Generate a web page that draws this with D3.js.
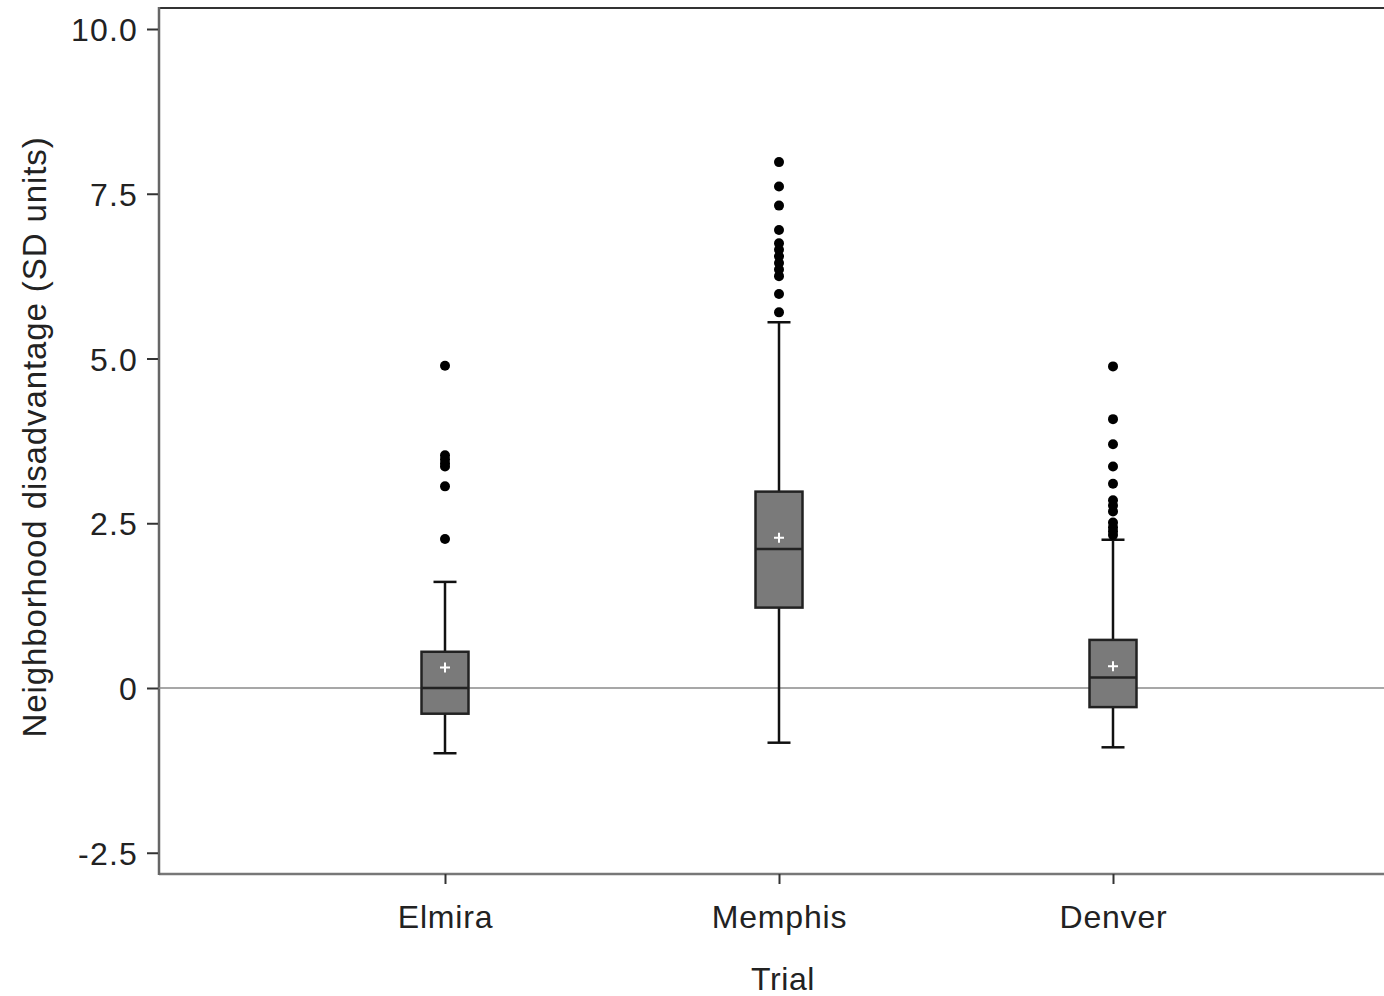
<!DOCTYPE html>
<html><head><meta charset="utf-8">
<script src="https://cdn.jsdelivr.net/npm/d3@7"></script>
<style>body{margin:0;background:#fff}svg{display:block}text{font-family:"Liberation Sans",Arial,sans-serif}</style>
</head><body>
<svg id="c" width="1384" height="996"></svg>
<script>
const categories = ["Elmira", "Memphis", "Denver"];
const q1 = [-0.39, 1.22, -0.29];
const median = [0.0, 2.11, 0.16];
const q3 = [0.55, 2.98, 0.73];
const whiskerLow = [-0.99, -0.83, -0.90];
const whiskerHigh = [1.61, 5.55, 2.25];
const means = [0.31, 2.28, 0.33];
const outliersElmira = [4.89, 3.53, 3.47, 3.41, 3.36, 3.06, 2.26];
const outliersMemphis = [7.98, 7.61, 7.32, 6.95, 6.75, 6.65, 6.55, 6.45, 6.35, 6.25, 5.98, 5.70];
const outliersDenver = [4.88, 4.08, 3.70, 3.36, 3.10, 2.85, 2.77, 2.68, 2.51, 2.44, 2.38, 2.32];
const outliers = [outliersElmira, outliersMemphis, outliersDenver];
const yTicks = [-2.5, 0, 2.5, 5.0, 7.5, 10.0];
const yTickLabels = ["-2.5", "0", "2.5", "5.0", "7.5", "10.0"];

(function () {
const svg = d3.select("#c");
const pLeft = 159, pTop = 8, pBottom = 874, pRight = 1390;
const y = d3.scaleLinear().domain([0, 10]).range([688, 29]);
const x = d3.scalePoint().domain(categories).range([445, 1113]);

// frame
svg.append("line").attr("x1", pLeft).attr("x2", pRight).attr("y1", pTop).attr("y2", pTop).attr("stroke", "#333").attr("stroke-width", 2);
svg.append("line").attr("x1", pLeft).attr("x2", pRight).attr("y1", pBottom).attr("y2", pBottom).attr("stroke", "#777").attr("stroke-width", 2.5);
svg.append("line").attr("x1", pLeft).attr("x2", pLeft).attr("y1", pTop - 1).attr("y2", pBottom + 1).attr("stroke", "#666").attr("stroke-width", 2.5);

// zero reference
svg.append("line").attr("x1", pLeft).attr("x2", pRight).attr("y1", y(0)).attr("y2", y(0)).attr("stroke", "#8a8a8a").attr("stroke-width", 1.5);

// y axis
const yAxis = d3.axisLeft(y).tickValues(yTicks).tickSize(11).tickPadding(9)
  .tickFormat((d, i) => yTickLabels[i]);
const gy = svg.append("g").attr("transform", `translate(${pLeft - 1},0)`).call(yAxis);
gy.select(".domain").remove();
gy.selectAll(".tick line").attr("stroke", "#333").attr("stroke-width", 2);
gy.selectAll(".tick text").attr("font-size", 32).attr("fill", "#222").attr("dy", "0.36em").style("letter-spacing", "1.2px");

// x axis
const xAxis = d3.axisBottom(x).tickSize(10).tickPadding(10);
const gx = svg.append("g").attr("transform", `translate(0,${pBottom})`).call(xAxis);
gx.select(".domain").remove();
gx.selectAll(".tick line").attr("stroke", "#333").attr("stroke-width", 2);
gx.selectAll(".tick text").attr("font-size", 32).attr("fill", "#222").attr("dy", "1.05em").style("letter-spacing", "0.8px");

// titles
svg.append("text").attr("x", 783).attr("y", 990).attr("text-anchor", "middle").attr("font-size", 32).attr("fill", "#222").style("letter-spacing", "0.6px").text("Trial");
svg.append("text").attr("transform", "translate(46,437) rotate(-90)").attr("text-anchor", "middle").attr("font-size", 33).attr("fill", "#222").style("letter-spacing", "0.9px").text("Neighborhood disadvantage (SD units)");

// boxes
const bw = 47, cap = 23;
categories.forEach((c, i) => {
  const cx = x(c);
  const g = svg.append("g");
  g.append("line").attr("x1", cx).attr("x2", cx).attr("y1", y(q3[i])).attr("y2", y(whiskerHigh[i])).attr("stroke", "#111").attr("stroke-width", 2.5);
  g.append("line").attr("x1", cx).attr("x2", cx).attr("y1", y(q1[i])).attr("y2", y(whiskerLow[i])).attr("stroke", "#111").attr("stroke-width", 2.5);
  [whiskerHigh[i], whiskerLow[i]].forEach(v => {
    g.append("line").attr("x1", cx - cap / 2).attr("x2", cx + cap / 2).attr("y1", y(v)).attr("y2", y(v)).attr("stroke", "#111").attr("stroke-width", 2.5);
  });
  g.append("rect").attr("x", cx - bw / 2).attr("y", y(q3[i])).attr("width", bw).attr("height", y(q1[i]) - y(q3[i]))
    .attr("fill", "#7a7a7a").attr("stroke", "#222").attr("stroke-width", 2.5);
  g.append("line").attr("x1", cx - bw / 2).attr("x2", cx + bw / 2).attr("y1", y(median[i])).attr("y2", y(median[i])).attr("stroke", "#222").attr("stroke-width", 2.5);
  const my = y(means[i]);
  g.append("path").attr("d", `M${cx - 5},${my}L${cx + 5},${my}M${cx},${my - 5}L${cx},${my + 5}`).attr("stroke", "#fff").attr("stroke-width", 2);
  g.selectAll("circle.o").data(outliers[i]).enter().append("circle")
    .attr("cx", cx).attr("cy", d => y(d)).attr("r", 5).attr("fill", "#000");
});
})();
</script>
</body></html>
